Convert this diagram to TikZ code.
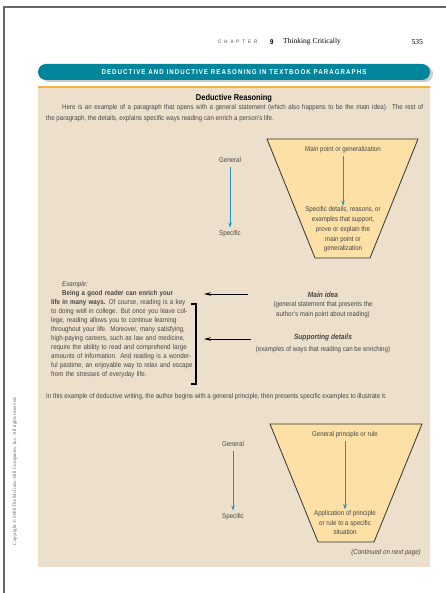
\documentclass[tikz,border=0pt]{standalone}
\usepackage{fontspec}
\setmainfont{Liberation Sans}[FakeStretch=0.88]
\newfontfamily\serifface{Liberation Serif}
\usetikzlibrary{arrows.meta}

\definecolor{bannerteal}{RGB}{0,133,155}
\definecolor{boxbeige}{RGB}{236,224,204}
\definecolor{rulegold}{RGB}{246,178,62}
\definecolor{funnelfill}{RGB}{252,224,166}
\definecolor{flowblue}{RGB}{30,150,205}
\definecolor{inkgray}{RGB}{70,70,70}

\newcommand{\txt}{\fontsize{7}{9}\selectfont}
\newcommand{\jl}[1]{\makebox[139pt][s]{#1}\\}

\begin{document}
\begin{tikzpicture}[x=1pt, y=-1pt,
        lbl/.style={font=\txt, text=inkgray, inner sep=0pt},
        flow/.style={-{Stealth[length=5pt,width=3.6pt]}, draw=flowblue, line width=1pt},
        pointer/.style={-{Stealth[length=7pt,width=3.6pt]}, draw=black, line width=1pt},
        funnel/.style={fill=funnelfill, draw=black!80, line width=0.8pt}]
        \useasboundingbox (0,0) rectangle (446,593);
        % page frame
        \draw[black!60, line width=1.6pt] (446,7) -- (4,7) -- (4,593);
        \node (chap) at (218,42) [anchor=west, inner sep=0pt, text=inkgray] {\fontsize{5}{5}\selectfont\addfontfeature{LetterSpace=60}CHAPTER};
        \node (chapnum) at (270,42) [anchor=west, inner sep=0pt] {\fontsize{7}{8}\selectfont\bfseries 9};
        \node (chaptitle) at (283,42) [anchor=west, inner sep=0pt] {\fontsize{7.5}{8}\selectfont\serifface Thinking Critically};
        \node (pagenum) at (423,42) [anchor=east, inner sep=0pt] {\fontsize{7.5}{8}\selectfont\serifface 535};
        % banner
        \fill[black!20, rounded corners=8pt] (41,66) rectangle (433,82);
        \fill[bannerteal, rounded corners=8pt] (38,64) rectangle (430,80);
        \node (banner) at (234,72) [text=white, inner sep=0pt] {\fontsize{7}{7}\selectfont\bfseries\addfontfeature{LetterSpace=15}DEDUCTIVE AND INDUCTIVE REASONING IN TEXTBOOK PARAGRAPHS};
        % box
        \fill[boxbeige] (38,87) rectangle (430,567);
        \draw[rulegold, line width=1.4pt] (38,87) -- (430,87);
        \node (head) at (234,98) [inner sep=0pt] {\fontsize{8.5}{9}\selectfont\bfseries Deductive Reasoning};
        \node (intro) at (46,104.5) [lbl, anchor=north west, text width=377pt, align=justify, font=\fontsize{7}{11}\selectfont] {\hspace*{16pt}Here is an example of a paragraph that opens with a general statement (which also happens to be the main idea). The rest of\linebreak the paragraph, the details, explains specific ways reading can enrich a person's life.};
        % first funnel
        \filldraw[funnel] (267,139) -- (418,139) -- (370,258) -- (315,258) -- cycle;
        \node (mainpt) at (343,150) [lbl] {Main point or generalization};
        \node (details) at (343,229.5) [lbl, align=center, font=\fontsize{7}{9.7}\selectfont] {Specific details, reasons, or\\examples that support,\\prove or explain the\\main point or\\generalization};
        \draw[flow, shorten <=3pt, shorten >=1pt] (mainpt) -- (details);
        \node (gen1) at (230,160) [lbl] {General};
        \node (spec1) at (230,234) [lbl] {Specific};
        \draw[flow, shorten <=4pt, shorten >=3pt] (gen1) -- (spec1);
        % example paragraph
        \node (exlabel) at (62,285) [lbl, anchor=west] {\itshape Example:};
        \node (para) at (51,290.5) [lbl, anchor=north west, text width=139pt, align=left] {%
        \jl{\hspace*{11pt}\textbf{Being a good reader can enrich your}}
        \jl{\textbf{life in many ways.} Of course, reading is a key}
        \jl{to doing well in college. But once you leave col-}
        \jl{lege, reading allows you to continue learning}
        \jl{throughout your life. Moreover, many satisfying,}
        \jl{high-paying careers, such as law and medicine,}
        \jl{require the ability to read and comprehend large}
        \jl{amounts of information. And reading is a wonder-}
        \jl{ful pastime, an enjoyable way to relax and escape}
        from the stresses of everyday life.};
        \draw[black, line width=1.8pt] (191,304) -- (196,304) -- (196,384) -- (191,384);
        \node (mainidea) at (323,295) [lbl, font=\fontsize{7.5}{8}\selectfont\bfseries\itshape] {Main idea};
        \node (mainsub) at (323,309.5) [lbl, align=center, font=\fontsize{7}{9.5}\selectfont] {(general statement that presents the\\author's main point about reading)};
        \node (supdet) at (323,338) [lbl, font=\fontsize{7.5}{8}\selectfont\bfseries\itshape] {Supporting details};
        \node (supsub) at (323,350) [lbl] {(examples of ways that reading can be enriching)};
        \coordinate (mi-tail) at (248,294);
        \coordinate (mi-head) at (204,294);
        \coordinate (sd-tail) at (251,339);
        \coordinate (sd-head) at (204,339);
        \draw[pointer] (mi-tail) -- (mi-head);
        \draw[pointer] (sd-tail) -- (sd-head);
        \node (outro) at (46,397) [lbl, anchor=west] {In this example of deductive writing, the author begins with a general principle, then presents specific examples to illustrate it.};
        % second funnel
        \filldraw[funnel] (270,424) -- (422,424) -- (374,542) -- (318,542) -- cycle;
        \node (rule) at (345,435) [lbl] {General principle or rule};
        \node (applic) at (345,522.5) [lbl, align=center, font=\fontsize{7}{9.5}\selectfont] {Application of principle\\or rule to a specific\\situation};
        \draw[flow, shorten <=3pt, shorten >=1pt] (rule) -- (applic);
        \node (gen2) at (233,444) [lbl] {General};
        \node (spec2) at (233,517) [lbl] {Specific};
        \draw[flow, shorten <=4pt, shorten >=3pt] (gen2) -- (spec2);
        \node (cont) at (421,553) [lbl, anchor=east] {\itshape (Continued on next page)};
        % copyright
        \node (copy) at (15,471) [rotate=90, inner sep=0pt, text=black!60] {\fontsize{5}{6}\selectfont\serifface Copyright \textcopyright\ 2008 The McGraw-Hill Companies, Inc. All rights reserved.};
\end{tikzpicture}
\end{document}
